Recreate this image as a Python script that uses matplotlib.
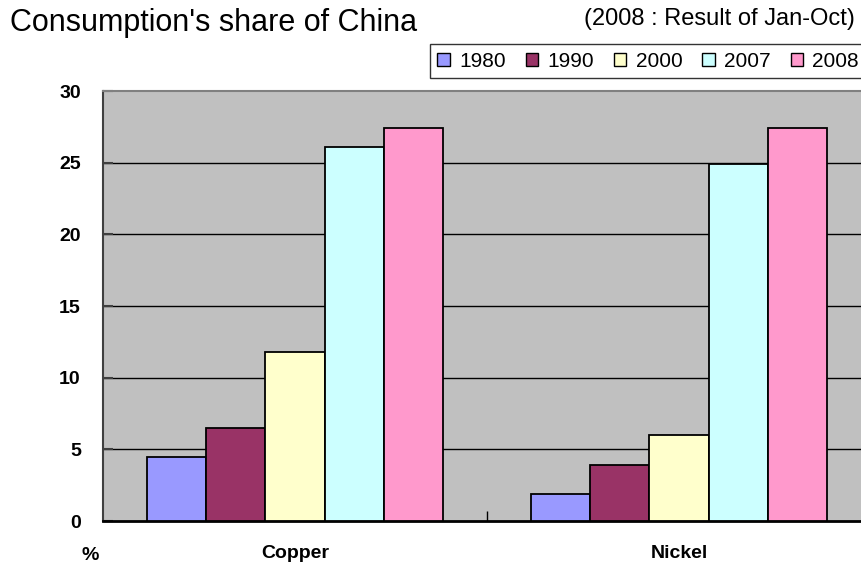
import matplotlib.pyplot as plt
import numpy as np

plt.rcParams['font.family'] = ['Liberation Sans', 'DejaVu Sans']

metals = ['Copper', 'Nickel']
years = ['1980', '1990', '2000', '2007', '2008']
colors = ['#9999FF', '#993366', '#FFFFCC', '#CCFFFF', '#FF99CC']
copper = [4.5, 6.5, 11.8, 26.1, 27.4]
nickel = [1.9, 3.9, 6.0, 24.9, 27.4]
shares = np.array([copper, nickel])

fig = plt.figure(figsize=(8.61, 5.67), dpi=100)
ax = fig.add_axes([0.1196, 0.0811, 0.892, 0.7584])
ax.set_facecolor('#C0C0C0')

x = np.arange(len(metals))
w = 0.154
for i, yr in enumerate(years):
    ax.bar(x + (i - 2) * w, shares[:, i], w, color=colors[i],
           edgecolor='black', linewidth=1.3, label=yr, zorder=3)

ax.set_xlim(-0.5, 1.5)
ax.set_ylim(0, 30)
ax.set_yticks(range(0, 31, 5))
for v in range(5, 30, 5):
    ax.axhline(v, color='black', linewidth=1, zorder=1)

ax.set_xticks([0.5])
ax.set_xticklabels([''])
ax.tick_params(axis='x', direction='in', length=7, width=1, color='black')
ax.tick_params(axis='y', direction='in', length=7, width=1.5, color='#404040',
               labelsize=14, pad=16)
for lbl in ax.get_yticklabels():
    lbl.set_fontweight('bold')

for xi, name in zip(x, metals):
    ax.text(xi, -2.3, name, ha='center', va='center', fontsize=14,
            fontweight='bold')
fig.text(90 / 861, 1 - 556 / 567, '%', ha='center', va='center',
         fontsize=14, fontweight='bold')

ax.spines['right'].set_visible(False)
ax.spines['top'].set_color('#808080')
ax.spines['top'].set_linewidth(1.5)
ax.spines['left'].set_color('#404040')
ax.spines['left'].set_linewidth(1.5)
ax.spines['bottom'].set_color('black')
ax.spines['bottom'].set_linewidth(2)

fig.text(10 / 861, 1 - 23 / 567, "Consumption's share of China", ha='left',
         va='center', fontsize=22)
fig.text(855 / 861, 1 - 19 / 567, '(2008 : Result of Jan-Oct)', ha='right',
         va='center', fontsize=17)

leg = ax.legend(loc='lower left', bbox_to_anchor=(430 / 861, 1 - 78 / 567),
                bbox_transform=fig.transFigure, ncol=5, frameon=True,
                fancybox=False, edgecolor='black', fontsize=15,
                handlelength=0.6, handleheight=0.6, handletextpad=0.45,
                columnspacing=0.95, borderpad=0.35, borderaxespad=0)
leg.get_frame().set_linewidth(1)
for h in leg.legend_handles:
    h.set_linewidth(1)

fig.savefig('out.png', dpi=100)
